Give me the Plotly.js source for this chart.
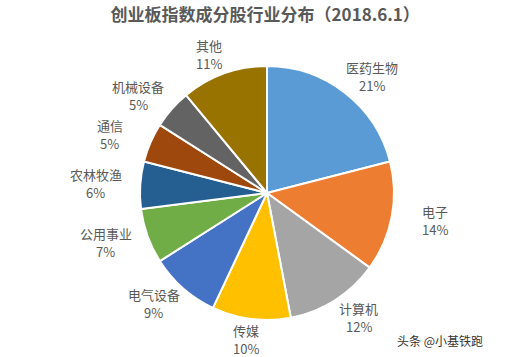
<!DOCTYPE html>
<html><head><meta charset="utf-8">
<script src="https://cdn.plot.ly/plotly-3.0.1.min.js"></script>
<style>html,body{margin:0;padding:0;background:#fff;}#chart{width:510px;height:357px;}</style>
</head><body><div id="chart"></div>
<script>
const labels = ['医药生物','电子','计算机','传媒','电气设备','公用事业','农林牧渔','通信','机械设备','其他'];
const values = [21,14,12,10,9,7,6,5,5,11];
const colors = ['#5B9BD5','#ED7D31','#A5A5A5','#FFC000','#4472C4','#70AD47','#255E91','#9E480E','#636363','#997300'];
const titleText = '创业板指数成分股行业分布（2018.6.1）';
const watermark = '头条 @小基铁跑';

const W = 510, H = 357;
const cx = 267, cy = 193, R = 127;
const FONT = '"Noto Sans CJK SC", "Microsoft YaHei", sans-serif';

const total = values.reduce((a,b)=>a+b,0);
const annotations = [];
let cum = 0;
values.forEach((v,i)=>{
  const mid = (cum + v/2)/total*2*Math.PI;
  cum += v;
  const px = cx + 1.35*R*Math.sin(mid);
  const py = cy - 1.16*R*Math.cos(mid);
  const base = {x: px/W, xref:'paper', yref:'paper', showarrow:false,
    xanchor:'center', align:'center', borderpad:0,
    font:{family:FONT, size:13, color:'#595959'}};
  annotations.push(Object.assign({}, base, {y: 1 - (py + 1.5)/H, yanchor:'bottom', text: labels[i]}));
  annotations.push(Object.assign({}, base, {y: 1 - (py - 1.5)/H, yanchor:'top', text: v + '%'}));
});
annotations.push({
  x: 440/W, y: 1 - 340/H, xref:'paper', yref:'paper', text: watermark,
  showarrow:false, xanchor:'center', yanchor:'middle',
  font:{family:FONT, size:12, color:'#333333'}
});

const trace = {
  type:'pie', labels: labels, values: values, sort:false,
  direction:'clockwise', rotation:0,
  marker:{colors: colors, line:{color:'#ffffff', width:2}},
  textinfo:'none', hoverinfo:'none',
  domain:{x:[(cx-R)/W,(cx+R)/W], y:[1-(cy+R)/H, 1-(cy-R)/H]}
};

const layout = {
  width:W, height:H, margin:{l:0,r:0,t:0,b:0},
  paper_bgcolor:'#ffffff', showlegend:false,
  title:{text:'<b>'+titleText+'</b>', x:0.52, xanchor:'center', y:1-15/H, yanchor:'middle',
    font:{family:FONT, size:17, color:'#595959'}},
  annotations: annotations
};
Plotly.newPlot('chart',[trace],layout,{displayModeBar:false, staticPlot:true});
</script></body></html>
